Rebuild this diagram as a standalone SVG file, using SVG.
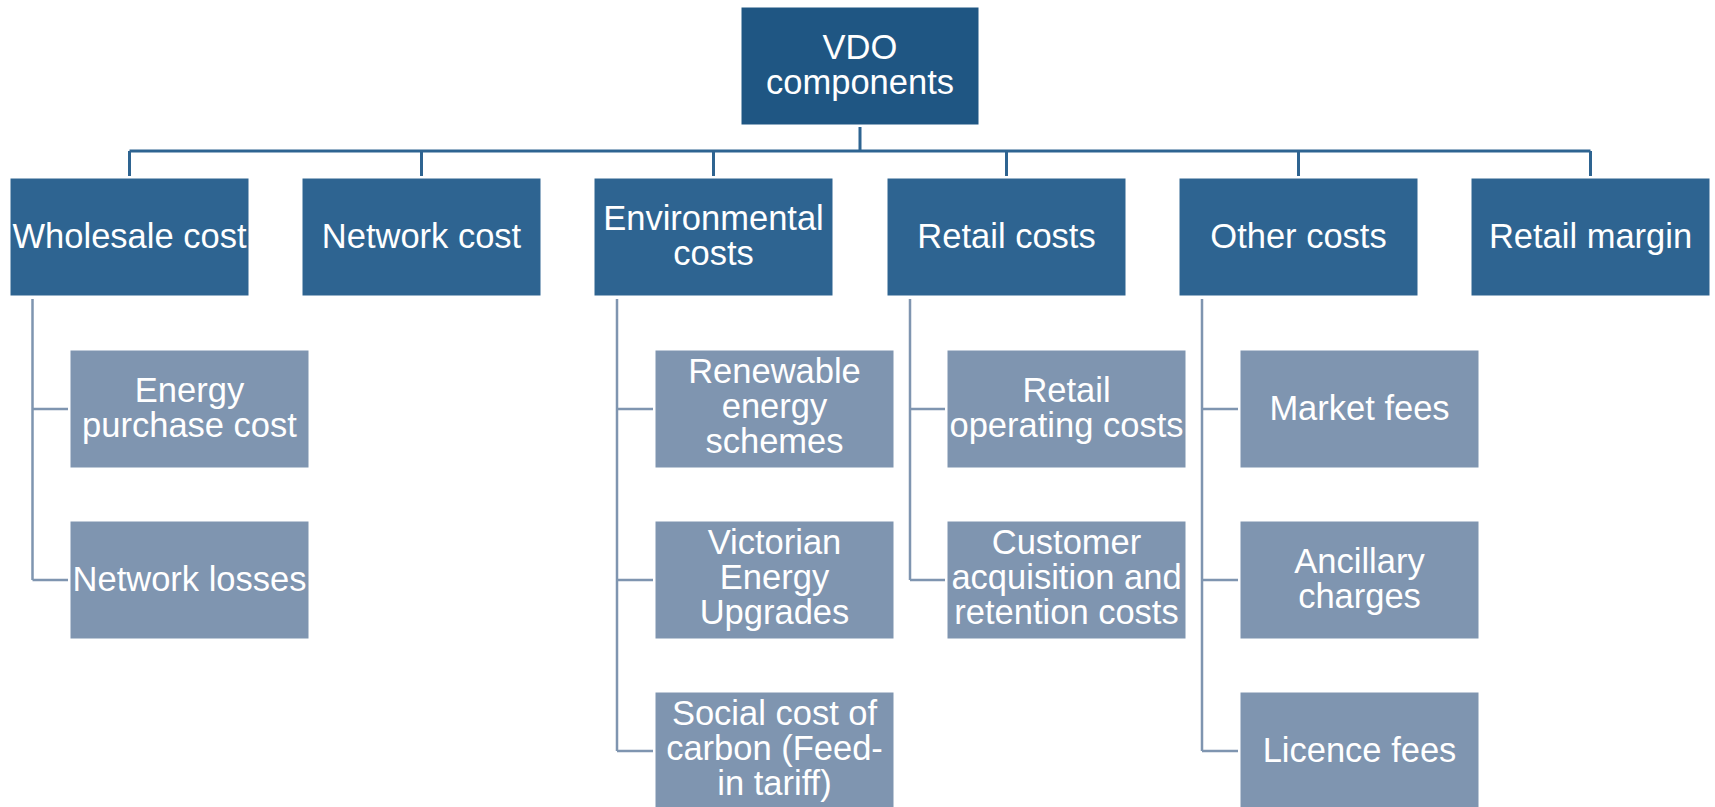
<svg xmlns="http://www.w3.org/2000/svg" width="1715" height="807" viewBox="0 0 1715 807">
<style>
.root{fill:#1f5683;stroke:#ffffff;stroke-width:1}
.l1{fill:#2e6491;stroke:#ffffff;stroke-width:1}
.l2{fill:#7f95b0;stroke:#ffffff;stroke-width:1}
text{font-family:"Liberation Sans",Arial,sans-serif;font-size:34.5px;fill:#ffffff;text-anchor:middle}
.bus{stroke:#2e6491;stroke-width:3;fill:none}
.br{stroke:#7f95b0;stroke-width:2.5;fill:none}
</style>
<rect width="1715" height="807" fill="#ffffff"/>
<g id="connectors">
<path class="bus" d="M860,127 V151 M129.5,151 H1590.5 M129.5,151 V176 M421.5,151 V176 M713.5,151 V176 M1006.5,151 V176 M1298.5,151 V176 M1590.5,151 V176"/>
<path class="br" d="M32.5,299 V580 M32.5,409 H68 M32.5,580 H68"/>
<path class="br" d="M617,299 V751 M617,409 H653 M617,580 H653 M617,751 H653"/>
<path class="br" d="M910,299 V580 M910,409 H945 M910,580 H945"/>
<path class="br" d="M1202,299 V751 M1202,409 H1238 M1202,580 H1238 M1202,751 H1238"/>
</g>
<g id="vdo"><rect class="root" x="741" y="7" width="238" height="118"/><text x="860" y="59">VDO</text><text x="860" y="94">components</text></g>
<g id="wholesale"><rect class="l1" x="10" y="178" width="239" height="118"/><text x="129.5" y="248">Wholesale cost</text></g>
<g id="network"><rect class="l1" x="302" y="178" width="239" height="118"/><text x="421.5" y="248">Network cost</text></g>
<g id="environmental"><rect class="l1" x="594" y="178" width="239" height="118"/><text x="713.5" y="230">Environmental</text><text x="713.5" y="265">costs</text></g>
<g id="retail"><rect class="l1" x="887" y="178" width="239" height="118"/><text x="1006.5" y="248">Retail costs</text></g>
<g id="other"><rect class="l1" x="1179" y="178" width="239" height="118"/><text x="1298.5" y="248">Other costs</text></g>
<g id="margin"><rect class="l1" x="1471" y="178" width="239" height="118"/><text x="1590.5" y="248">Retail margin</text></g>
<g id="energy-purchase"><rect class="l2" x="70" y="350" width="239" height="118"/><text x="189.5" y="402">Energy</text><text x="189.5" y="437">purchase cost</text></g>
<g id="network-losses"><rect class="l2" x="70" y="521" width="239" height="118"/><text x="189.5" y="591">Network losses</text></g>
<g id="renewable"><rect class="l2" x="655" y="350" width="239" height="118"/><text x="774.5" y="383">Renewable</text><text x="774.5" y="418">energy</text><text x="774.5" y="453">schemes</text></g>
<g id="veu"><rect class="l2" x="655" y="521" width="239" height="118"/><text x="774.5" y="554">Victorian</text><text x="774.5" y="589">Energy</text><text x="774.5" y="624">Upgrades</text></g>
<g id="social-cost"><rect class="l2" x="655" y="692" width="239" height="130"/><text x="774.5" y="725">Social cost of</text><text x="774.5" y="760">carbon (Feed-</text><text x="774.5" y="795">in tariff)</text></g>
<g id="retail-operating"><rect class="l2" x="947" y="350" width="239" height="118"/><text x="1066.5" y="402">Retail</text><text x="1066.5" y="437">operating costs</text></g>
<g id="customer-acq"><rect class="l2" x="947" y="521" width="239" height="118"/><text x="1066.5" y="554">Customer</text><text x="1066.5" y="589">acquisition and</text><text x="1066.5" y="624">retention costs</text></g>
<g id="market-fees"><rect class="l2" x="1240" y="350" width="239" height="118"/><text x="1359.5" y="420">Market fees</text></g>
<g id="ancillary"><rect class="l2" x="1240" y="521" width="239" height="118"/><text x="1359.5" y="573">Ancillary</text><text x="1359.5" y="608">charges</text></g>
<g id="licence"><rect class="l2" x="1240" y="692" width="239" height="130"/><text x="1359.5" y="762">Licence fees</text></g>
</svg>
